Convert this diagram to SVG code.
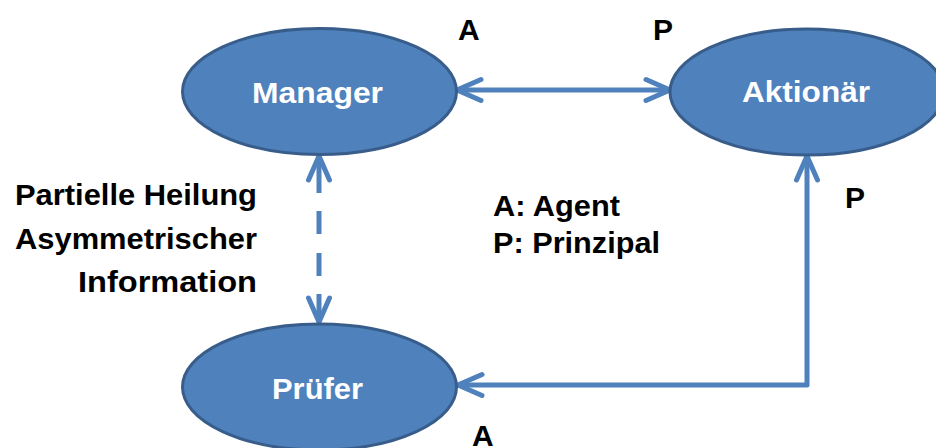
<svg xmlns="http://www.w3.org/2000/svg" width="936" height="448" viewBox="0 0 936 448">
<defs>
<style>
.node{fill:#4F81BD;stroke:#385D8A;stroke-width:3}
.nl{fill:#fff;font-family:"Liberation Sans",Arial,sans-serif;font-weight:bold;font-size:30px;text-anchor:middle}
.t{fill:#000;font-family:"Liberation Sans",Arial,sans-serif;font-weight:bold;font-size:30px}
.c{fill:none;stroke:#4F81BD;stroke-width:5;stroke-linejoin:round;marker-start:url(#ah);marker-end:url(#ah)}
</style>
<marker id="ah" markerUnits="userSpaceOnUse" viewBox="-30 -15 34 30" refX="0" refY="0" markerWidth="34" markerHeight="30" orient="auto-start-reverse" overflow="visible">
<path d="M-24 -10.5 L0 0 L-24 10.5" fill="none" stroke="#4F81BD" stroke-width="5" stroke-linecap="round" stroke-linejoin="miter"/>
</marker>
</defs>
<g id="connectors">
<path class="c" d="M457 90 H670"/>
<path class="c" d="M319 156 V322" stroke-dasharray="37 18 23 19 23 18 29"/>
<path class="c" d="M458 385 H807 V156"/>
</g>
<g id="manager">
<ellipse class="node" cx="319.5" cy="91.5" rx="137" ry="63"/>
<text class="nl" x="317.5" y="103" textLength="131" lengthAdjust="spacingAndGlyphs">Manager</text>
</g>
<g id="aktionaer">
<ellipse class="node" cx="807" cy="92" rx="137" ry="63"/>
<text class="nl" x="806" y="102" textLength="128" lengthAdjust="spacingAndGlyphs">Aktionär</text>
</g>
<g id="pruefer">
<ellipse class="node" cx="319.5" cy="387" rx="137" ry="63"/>
<text class="nl" x="317.5" y="399" textLength="91" lengthAdjust="spacingAndGlyphs">Prüfer</text>
</g>
<g id="labels">
<text class="t" x="458" y="40">A</text>
<text class="t" x="653" y="40">P</text>
<text class="t" x="845" y="208">P</text>
<text class="t" x="472" y="446">A</text>
<text class="t" x="493" y="216" textLength="127" lengthAdjust="spacingAndGlyphs">A: Agent</text>
<text class="t" x="493" y="253" textLength="167" lengthAdjust="spacingAndGlyphs">P: Prinzipal</text>
<text class="t" x="15" y="205" textLength="242" lengthAdjust="spacingAndGlyphs">Partielle Heilung</text>
<text class="t" x="15" y="249" textLength="242" lengthAdjust="spacingAndGlyphs">Asymmetrischer</text>
<text class="t" x="78" y="292" textLength="179" lengthAdjust="spacingAndGlyphs">Information</text>
</g>
</svg>
